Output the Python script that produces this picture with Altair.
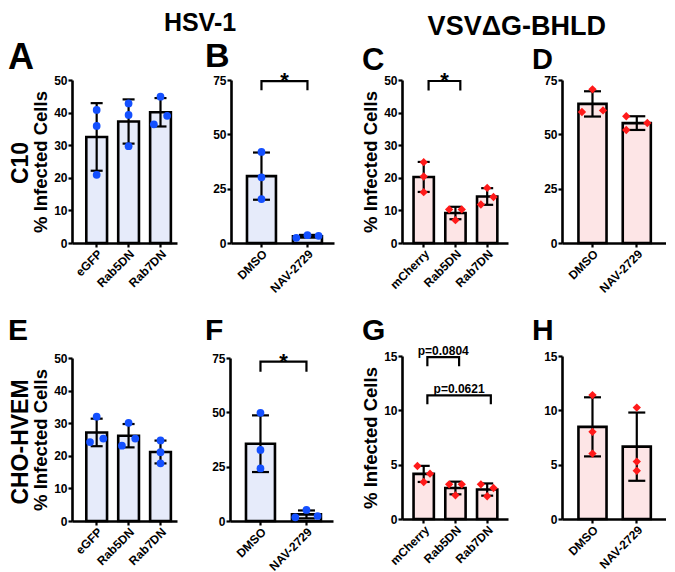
import altair as alt
import pandas as pd

FONT = "Liberation Sans"

# ---------------- data ----------------
HSV_GROUPS = ["eGFP", "Rab5DN", "Rab7DN"]
VSV_GROUPS = ["mCherry", "Rab5DN", "Rab7DN"]
DRUG_GROUPS = ["DMSO", "NAV-2729"]

A_values = [[40.8, 35.9, 20.9], [42.8, 39.3, 29.7], [44.9, 39.0, 36.4]]
B_values = [[41.9, 30.2, 20.2], [2.4, 3.6, 3.3]]
C_values = [[24.8, 20.4, 15.6], [10.3, 10.3, 7.0], [16.9, 14.1, 11.8]]
D_values = [[70.7, 60.3, 61.0], [58.3, 55.2, 52.0]]
E_values = [[32.0, 24.2, 25.3], [30.1, 23.1, 25.3], [24.7, 21.1, 17.7]]
F_values = [[49.8, 32.7, 24.2], [5.1, 1.7, 2.3]]
G_values = [[4.88, 4.17, 3.40], [3.19, 3.19, 2.18], [3.19, 2.85, 2.09]]
H_values = [[11.4, 8.02, 6.02], [10.25, 5.28, 4.44]]

# which side of the bar each replicate is drawn on (-1 left, 0 centre, 1 right)
A_side = [[0, 0, 0], [0, 0, 0], [0, 1, -1]]
B_side = [[0, 0, 0], [-1, 0, 1]]
C_side = [[0, 0, 0], [-1, 1, 0], [0, 1, -1]]
D_side = [[0, -1, 1], [-1, 1, -1]]
E_side = [[0, -1, 1], [0, -1, 1], [0, 0, 0]]
F_side = [[0, 0, 0], [0, -1, 1]]
G_side = [[-1, 1, 0], [-1, 1, 0], [-1, 1, 0]]
H_side = [[0, 0, 0], [0, 0, 0]]

# significance brackets: (from, to, top, leg end, label)
B_brackets = [("DMSO", "NAV-2729", 74.5, 70.3, "*")]
C_brackets = [("mCherry", "Rab5DN", 49.7, 46.8, "*")]
F_brackets = [("DMSO", "NAV-2729", 73.3, 68.7, "*")]
G_brackets = [("mCherry", "Rab5DN", 14.9, 14.05, "p=0.0804"),
              ("mCherry", "Rab7DN", 11.38, 10.55, "p=0.0621")]

HEADERS = ["HSV-1", "VSVΔG-BHLD"]
ROW_LABELS = ["C10", "CHO-HVEM"]
Y_TITLE = "% Infected Cells"

BLUE_PT, BLUE_FILL = "#1450ff", "#e6ebfa"
RED_PT, RED_FILL = "#ff1a1a", "#fde5e6"

# layout styles per column type
LAYOUT = {
    "hsv3": dict(width=105, pi=0.35, po=0.32, align=0.7, cap=12, jf=0.32),
    "drug_l": dict(width=103, pi=0.37, po=0.305, align=0.57, cap=17, jf=0.385),
    "vsv3": dict(width=106, pi=0.36, po=0.35, align=0.52, cap=12, jf=0.31),
    "drug_r": dict(width=104, pi=0.366, po=0.357, align=0.52, cap=17, jf=0.375),
}
PLOT_H = 163


def panel(groups, values, sides, kind, ymax, ystep, lay, letter, letter_xy, letter_size,
          ytitle=False, rowlabel=None, rowlabel_xy=None, brackets=(), bracket_band=0.5):
    L = LAYOUT[lay]
    rows = []
    for g, vs, ss in zip(groups, values, sides):
        for v, s in zip(vs, ss):
            rows.append({"group": g, "value": v, "side": s})
    df = pd.DataFrame(rows)
    pt_color, fill = (BLUE_PT, BLUE_FILL) if kind == "blue" else (RED_PT, RED_FILL)
    shape = "circle" if kind == "blue" else "diamond"
    msize = 60 if kind == "blue" else 70

    xscale = alt.Scale(domain=groups, paddingInner=L["pi"], paddingOuter=L["po"], align=L["align"])
    xaxis = alt.Axis(title=None, labelAngle=-45, labelAlign="right", labelBaseline="top")
    yscale = alt.Scale(domain=[0, ymax], nice=False, zero=True)
    yaxis = alt.Axis(values=list(range(0, ymax + 1, ystep)), title=Y_TITLE if ytitle else None)

    def X(field="group:N", bp=0.5):
        return alt.X(field, scale=xscale, axis=xaxis, bandPosition=bp)

    def Y(field):
        return alt.Y(field, scale=yscale, axis=yaxis)

    base = alt.Chart(df)
    bars = base.mark_bar(fill=fill, stroke="black", strokeWidth=2.6).encode(
        x=X(), y=Y("mean(value):Q"))
    err = base.transform_aggregate(
        m="mean(value)", s="stdev(value)", groupby=["group"]
    ).transform_calculate(lo="datum.m - datum.s", hi="datum.m + datum.s")
    rule = err.mark_rule(color="black", strokeWidth=2.2).encode(x=X(), y=Y("lo:Q"), y2="hi:Q")
    cap_lo = err.mark_tick(color="black", thickness=2.2, size=L["cap"], opacity=1).encode(x=X(), y=Y("lo:Q"))
    cap_hi = err.mark_tick(color="black", thickness=2.2, size=L["cap"], opacity=1).encode(x=X(), y=Y("hi:Q"))
    layers = [bars, rule, cap_lo, cap_hi]
    for s in (-1, 0, 1):
        layers.append(
            base.transform_filter(f"datum.side == {s}").mark_point(
                filled=True, shape=shape, size=msize, color=pt_color, opacity=1, strokeWidth=0
            ).encode(x=X(bp=0.5 + s * L["jf"]), y=Y("value:Q"))
        )

    n = len(groups)
    step = L["width"] / (n - L["pi"] + 2 * L["po"])
    for a, b, top, leg, label in brackets:
        bdf = pd.DataFrame({
            "g": [a, a, b, b], "y": [leg, top, top, leg], "o": [0, 1, 2, 3]
        })
        layers.append(alt.Chart(bdf).mark_line(color="black", strokeWidth=2.2, strokeJoin="miter").encode(
            x=X("g:N", bracket_band), y=Y("y:Q"), order="o:Q"))
        mid = (groups.index(b) - groups.index(a)) * step / 2
        star = label == "*"
        tdf = pd.DataFrame({"g": [a], "y": [top], "t": [label]})
        layers.append(alt.Chart(tdf).mark_text(
            font=FONT, fontWeight="bold", fontSize=22 if star else 12, color="black",
            align="center", baseline="alphabetic", dx=mid, dy=7 if star else -2
        ).encode(x=X("g:N", bracket_band), y=Y("y:Q"), text="t:N"))

    ldf = pd.DataFrame({"t": [letter]})
    layers.append(alt.Chart(ldf).mark_text(
        font=FONT, fontWeight="bold", fontSize=letter_size, color="black",
        align="left", baseline="alphabetic"
    ).encode(text="t:N", x=alt.value(letter_xy[0]), y=alt.value(letter_xy[1])))
    if rowlabel:
        rdf = pd.DataFrame({"t": [rowlabel]})
        layers.append(alt.Chart(rdf).mark_text(
            font=FONT, fontWeight="bold", fontSize=23, color="black",
            align="center", baseline="middle", angle=270
        ).encode(text="t:N", x=alt.value(rowlabel_xy[0]), y=alt.value(rowlabel_xy[1])))

    return alt.layer(*layers).properties(width=L["width"], height=PLOT_H)


pA = panel(HSV_GROUPS, A_values, A_side, "blue", 50, 10, "hsv3", "A", (-64, -11), 36,
           ytitle=True, rowlabel=ROW_LABELS[0], rowlabel_xy=(-51, 83))
pB = panel(DRUG_GROUPS, B_values, B_side, "blue", 75, 25, "drug_l", "B", (-26, -13), 34,
           brackets=B_brackets)
pC = panel(VSV_GROUPS, C_values, C_side, "red", 50, 10, "vsv3", "C", (-40, -10), 31,
           ytitle=True, brackets=C_brackets, bracket_band=0.74)
pD = panel(DRUG_GROUPS, D_values, D_side, "red", 75, 25, "drug_r", "D", (-30, -11), 29)
pE = panel(HSV_GROUPS, E_values, E_side, "blue", 50, 10, "hsv3", "E", (-64, -18), 30,
           ytitle=True, rowlabel=ROW_LABELS[1], rowlabel_xy=(-51, 84))
pF = panel(DRUG_GROUPS, F_values, F_side, "blue", 75, 25, "drug_l", "F", (-25, -18), 30,
           brackets=F_brackets)
pG = panel(VSV_GROUPS, G_values, G_side, "red", 15, 5, "vsv3", "G", (-40, -16), 30,
           ytitle=True, brackets=G_brackets, bracket_band=0.68)
pH = panel(DRUG_GROUPS, H_values, H_side, "red", 15, 5, "drug_r", "H", (-30, -16), 30)

ROW_GAP = 21
left = alt.vconcat(
    alt.hconcat(pA, pB, spacing=28),
    alt.hconcat(pE, pF, spacing=28),
    spacing=ROW_GAP,
    title=alt.TitleParams(HEADERS[0], fontSize=25, font=FONT, fontWeight="bold", color="black",
                          anchor="middle", dx=29, offset=4),
)
right = alt.vconcat(
    alt.hconcat(pC, pD, spacing=24),
    alt.hconcat(pG, pH, spacing=24),
    spacing=ROW_GAP,
    title=alt.TitleParams(HEADERS[1], fontSize=27, font=FONT, fontWeight="bold", color="black",
                          anchor="middle", dx=3, offset=4),
)

chart = alt.hconcat(left, right, spacing=27).properties(
    padding={"left": 0, "top": 3, "right": 0, "bottom": 0}
).configure_view(stroke=None).configure_axis(
    domainColor="black", domainWidth=2.6, tickColor="black", tickWidth=2.2, tickSize=4,
    labelFont=FONT, labelFontSize=12, labelFontWeight="bold", labelColor="black", labelPadding=1,
    titleFont=FONT, titleFontSize=18.5, titleFontWeight="bold", titleColor="black", titlePadding=3,
    grid=False,
)

chart.save("out.html", embed_options={"renderer": "svg", "actions": False})
